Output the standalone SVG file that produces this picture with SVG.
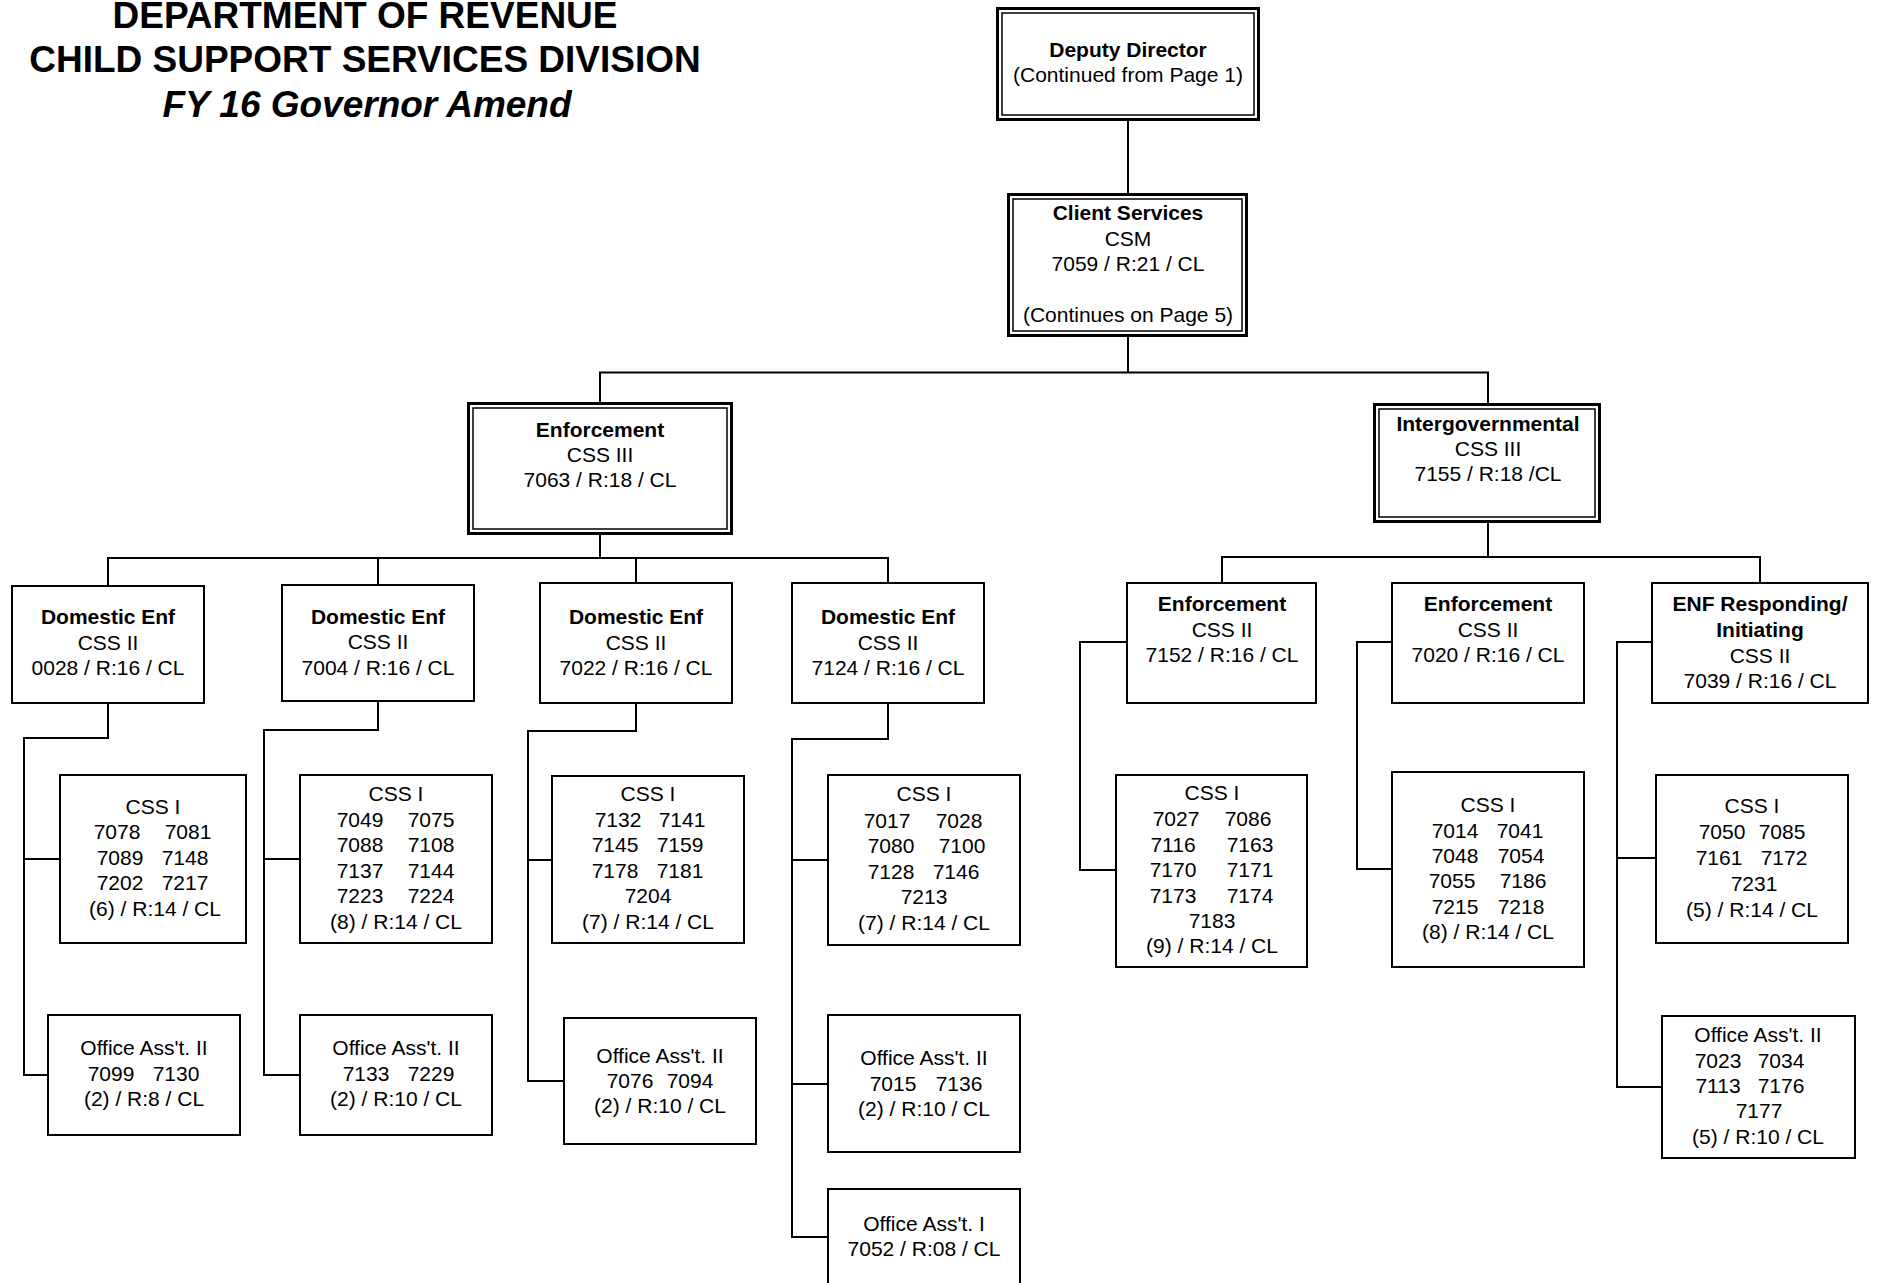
<svg xmlns="http://www.w3.org/2000/svg" width="1878" height="1283" viewBox="0 0 1878 1283">
<style>
.box{fill:#fff;stroke:#000;stroke-width:2}
.outer{fill:#fff;stroke:#000;stroke-width:3}
.inner{fill:none;stroke:#000;stroke-width:1.5}
.t{font-family:"Liberation Sans",Arial,Helvetica,sans-serif;font-size:21px;text-anchor:middle;fill:#000}
.b{font-weight:bold}
.title{font-family:"Liberation Sans",Arial,Helvetica,sans-serif;font-size:37px;font-weight:bold;text-anchor:middle;fill:#000}
#connectors path{fill:none;stroke:#000;stroke-width:2}
</style>
<rect width="1878" height="1283" fill="#fff"/>
<g id="title">
<text class="title" x="365" y="27.5">DEPARTMENT OF REVENUE</text>
<text class="title" x="365" y="72">CHILD SUPPORT SERVICES DIVISION</text>
<text class="title" x="367" y="117" font-style="italic">FY 16 Governor Amend</text>
</g>
<g id="connectors">
<path d="M1128,121V193"/>
<path d="M1128,337V372.5M600,402V372.5H1488V403"/>
<path d="M600,535V558M108,586V558H888V583M378,558V585M636,558V583"/>
<path d="M1488,523V557M1222,583V557H1760V583"/>
<path d="M108,703V738H24V1075H48M24,859H60"/>
<path d="M378,701V730H264V1075H300M264,859H300"/>
<path d="M636,703V731H528V1081H564M528,860H552"/>
<path d="M888,703V739H792V1237H828M792,860H828M792,1084H828"/>
<path d="M1127,642H1080V870H1116"/>
<path d="M1392,642H1357V869H1392"/>
<path d="M1652,642H1617V1087H1662M1617,858H1656"/>
</g>
<g id="deputy-director">
<rect class="outer" x="997.5" y="8.5" width="261" height="111"/>
<rect class="inner" x="1002" y="13" width="252" height="102"/>
<text class="t"><tspan class="b" x="1128" y="57">Deputy Director</tspan><tspan x="1128" y="82">(Continued from Page 1)</tspan></text>
</g>
<g id="client-services">
<rect class="outer" x="1008.5" y="194.5" width="238" height="141"/>
<rect class="inner" x="1013" y="199" width="229" height="132"/>
<text class="t"><tspan class="b" x="1128" y="220">Client Services</tspan><tspan x="1128" y="246">CSM</tspan><tspan x="1128" y="271">7059 / R:21 / CL</tspan><tspan x="1128" y="322">(Continues on Page 5)</tspan></text>
</g>
<g id="enforcement-css3">
<rect class="outer" x="468.5" y="403.5" width="263" height="130"/>
<rect class="inner" x="473" y="408" width="254" height="121"/>
<text class="t"><tspan class="b" x="600" y="437">Enforcement</tspan><tspan x="600" y="462">CSS III</tspan><tspan x="600" y="487">7063 / R:18 / CL</tspan></text>
</g>
<g id="intergovernmental">
<rect class="outer" x="1374.5" y="404.5" width="225" height="117"/>
<rect class="inner" x="1379" y="409" width="216" height="108"/>
<text class="t"><tspan class="b" x="1488" y="431">Intergovernmental</tspan><tspan x="1488" y="456">CSS III</tspan><tspan x="1488" y="481">7155 / R:18 /CL</tspan></text>
</g>
<g id="domestic-enf-0028">
<rect class="box" x="12" y="586" width="192" height="117"/>
<text class="t"><tspan class="b" x="108" y="624">Domestic Enf</tspan><tspan x="108" y="650">CSS II</tspan><tspan x="108" y="675">0028 / R:16 / CL</tspan></text>
</g>
<g id="domestic-enf-7004">
<rect class="box" x="282" y="585" width="192" height="116"/>
<text class="t"><tspan class="b" x="378" y="624">Domestic Enf</tspan><tspan x="378" y="649">CSS II</tspan><tspan x="378" y="675">7004 / R:16 / CL</tspan></text>
</g>
<g id="domestic-enf-7022">
<rect class="box" x="540" y="583" width="192" height="120"/>
<text class="t"><tspan class="b" x="636" y="624">Domestic Enf</tspan><tspan x="636" y="650">CSS II</tspan><tspan x="636" y="675">7022 / R:16 / CL</tspan></text>
</g>
<g id="domestic-enf-7124">
<rect class="box" x="792" y="583" width="192" height="120"/>
<text class="t"><tspan class="b" x="888" y="624">Domestic Enf</tspan><tspan x="888" y="650">CSS II</tspan><tspan x="888" y="675">7124 / R:16 / CL</tspan></text>
</g>
<g id="css1-a">
<rect class="box" x="60" y="775" width="186" height="168"/>
<text class="t"><tspan x="153" y="814">CSS I</tspan><tspan x="117" y="839">7078</tspan><tspan x="188" y="839">7081</tspan><tspan x="120" y="865">7089</tspan><tspan x="185" y="865">7148</tspan><tspan x="120" y="890">7202</tspan><tspan x="185" y="890">7217</tspan><tspan x="155" y="916">(6) / R:14 / CL</tspan></text>
</g>
<g id="css1-b">
<rect class="box" x="300" y="775" width="192" height="168"/>
<text class="t"><tspan x="396" y="801">CSS I</tspan><tspan x="360" y="827">7049</tspan><tspan x="431" y="827">7075</tspan><tspan x="360" y="852">7088</tspan><tspan x="431" y="852">7108</tspan><tspan x="360" y="878">7137</tspan><tspan x="431" y="878">7144</tspan><tspan x="360" y="903">7223</tspan><tspan x="431" y="903">7224</tspan><tspan x="396" y="929">(8) / R:14 / CL</tspan></text>
</g>
<g id="css1-c">
<rect class="box" x="552" y="776" width="192" height="167"/>
<text class="t"><tspan x="648" y="801">CSS I</tspan><tspan x="618" y="827">7132</tspan><tspan x="682" y="827">7141</tspan><tspan x="615" y="852">7145</tspan><tspan x="680" y="852">7159</tspan><tspan x="615" y="878">7178</tspan><tspan x="680" y="878">7181</tspan><tspan x="648" y="903">7204</tspan><tspan x="648" y="929">(7) / R:14 / CL</tspan></text>
</g>
<g id="css1-d">
<rect class="box" x="828" y="775" width="192" height="170"/>
<text class="t"><tspan x="924" y="801">CSS I</tspan><tspan x="887" y="828">7017</tspan><tspan x="959" y="828">7028</tspan><tspan x="891" y="853">7080</tspan><tspan x="962" y="853">7100</tspan><tspan x="891" y="879">7128</tspan><tspan x="956" y="879">7146</tspan><tspan x="924" y="904">7213</tspan><tspan x="924" y="930">(7) / R:14 / CL</tspan></text>
</g>
<g id="office-a">
<rect class="box" x="48" y="1015" width="192" height="120"/>
<text class="t"><tspan x="144" y="1055">Office Ass't. II</tspan><tspan x="111" y="1081">7099</tspan><tspan x="176" y="1081">7130</tspan><tspan x="144" y="1106">(2) / R:8 / CL</tspan></text>
</g>
<g id="office-b">
<rect class="box" x="300" y="1015" width="192" height="120"/>
<text class="t"><tspan x="396" y="1055">Office Ass't. II</tspan><tspan x="366" y="1081">7133</tspan><tspan x="431" y="1081">7229</tspan><tspan x="396" y="1106">(2) / R:10 / CL</tspan></text>
</g>
<g id="office-c">
<rect class="box" x="564" y="1018" width="192" height="126"/>
<text class="t"><tspan x="660" y="1063">Office Ass't. II</tspan><tspan x="630" y="1088">7076</tspan><tspan x="690" y="1088">7094</tspan><tspan x="660" y="1113">(2) / R:10 / CL</tspan></text>
</g>
<g id="office-d">
<rect class="box" x="828" y="1015" width="192" height="137"/>
<text class="t"><tspan x="924" y="1065">Office Ass't. II</tspan><tspan x="893" y="1091">7015</tspan><tspan x="959" y="1091">7136</tspan><tspan x="924" y="1116">(2) / R:10 / CL</tspan></text>
</g>
<g id="office-asst-1">
<rect class="box" x="828" y="1189" width="192" height="110"/>
<text class="t"><tspan x="924" y="1231">Office Ass't. I</tspan><tspan x="924" y="1256">7052 / R:08 / CL</tspan></text>
</g>
<g id="enforcement-7152">
<rect class="box" x="1127" y="583" width="189" height="120"/>
<text class="t"><tspan class="b" x="1222" y="611">Enforcement</tspan><tspan x="1222" y="637">CSS II</tspan><tspan x="1222" y="662">7152 / R:16 / CL</tspan></text>
</g>
<g id="enforcement-7020">
<rect class="box" x="1392" y="583" width="192" height="120"/>
<text class="t"><tspan class="b" x="1488" y="611">Enforcement</tspan><tspan x="1488" y="637">CSS II</tspan><tspan x="1488" y="662">7020 / R:16 / CL</tspan></text>
</g>
<g id="enf-responding">
<rect class="box" x="1652" y="583" width="216" height="120"/>
<text class="t"><tspan class="b" x="1760" y="611">ENF Responding/</tspan><tspan class="b" x="1760" y="637">Initiating</tspan><tspan x="1760" y="663">CSS II</tspan><tspan x="1760" y="688">7039 / R:16 / CL</tspan></text>
</g>
<g id="css1-e">
<rect class="box" x="1116" y="775" width="191" height="192"/>
<text class="t"><tspan x="1212" y="800">CSS I</tspan><tspan x="1176" y="826">7027</tspan><tspan x="1248" y="826">7086</tspan><tspan x="1173" y="852">7116</tspan><tspan x="1250" y="852">7163</tspan><tspan x="1173" y="877">7170</tspan><tspan x="1250" y="877">7171</tspan><tspan x="1173" y="903">7173</tspan><tspan x="1250" y="903">7174</tspan><tspan x="1212" y="928">7183</tspan><tspan x="1212" y="953">(9) / R:14 / CL</tspan></text>
</g>
<g id="css1-f">
<rect class="box" x="1392" y="772" width="192" height="195"/>
<text class="t"><tspan x="1488" y="812">CSS I</tspan><tspan x="1455" y="838">7014</tspan><tspan x="1520" y="838">7041</tspan><tspan x="1455" y="863">7048</tspan><tspan x="1521" y="863">7054</tspan><tspan x="1452" y="888">7055</tspan><tspan x="1523" y="888">7186</tspan><tspan x="1455" y="914">7215</tspan><tspan x="1521" y="914">7218</tspan><tspan x="1488" y="939">(8) / R:14 / CL</tspan></text>
</g>
<g id="css1-g">
<rect class="box" x="1656" y="775" width="192" height="168"/>
<text class="t"><tspan x="1752" y="813">CSS I</tspan><tspan x="1722" y="839">7050</tspan><tspan x="1782" y="839">7085</tspan><tspan x="1719" y="865">7161</tspan><tspan x="1784" y="865">7172</tspan><tspan x="1754" y="891">7231</tspan><tspan x="1752" y="917">(5) / R:14 / CL</tspan></text>
</g>
<g id="office-e">
<rect class="box" x="1662" y="1016" width="193" height="142"/>
<text class="t"><tspan x="1758" y="1042">Office Ass't. II</tspan><tspan x="1718" y="1068">7023</tspan><tspan x="1781" y="1068">7034</tspan><tspan x="1718" y="1093">7113</tspan><tspan x="1781" y="1093">7176</tspan><tspan x="1759" y="1118">7177</tspan><tspan x="1758" y="1144">(5) / R:10 / CL</tspan></text>
</g>
</svg>
